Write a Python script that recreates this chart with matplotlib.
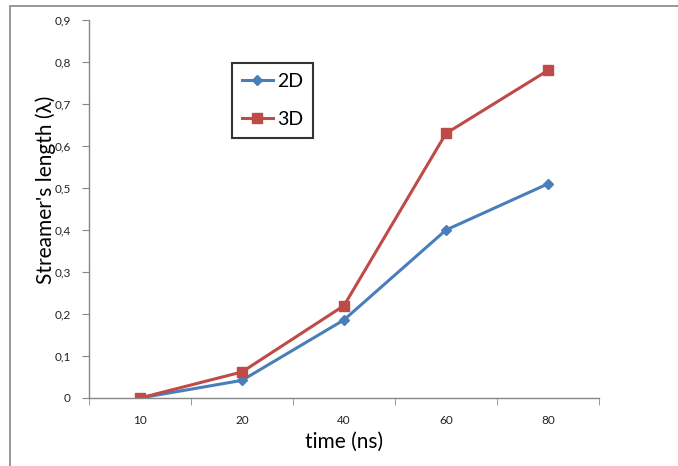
import matplotlib
matplotlib.use("Agg")
import matplotlib.pyplot as plt
from matplotlib.ticker import FuncFormatter, FixedLocator
from matplotlib.patches import Rectangle

times = ["10", "20", "40", "60", "80"]
len_2d = [0.0, 0.042, 0.186, 0.40, 0.51]
len_3d = [0.0, 0.062, 0.22, 0.63, 0.78]

plt.rcParams['font.family'] = ['Lato', 'DejaVu Sans']

W, H = 678, 466
fig = plt.figure(figsize=(W / 100, H / 100), dpi=100)
ax = fig.add_axes([89 / W, (H - 398) / H, (599 - 89) / W, (398 - 20) / H])

# outer chart frame (only top and left edges are visible in the crop)
fig.add_artist(Rectangle((10 / W, -0.01), 1.0, (H - 6) / H + 0.01, transform=fig.transFigure,
                         fill=False, edgecolor="#868686", lw=1.2))

x = list(range(len(times)))
ax.plot(x, len_2d, color="#4A7EBB", lw=2.2, marker="D", markersize=5, label="2D")
ax.plot(x, len_3d, color="#BE4B48", lw=2.2, marker="s", markersize=7, label="3D")

ax.set_xlim(-0.5, len(times) - 0.5)
ax.set_ylim(0, 0.9)
ax.set_xticks(x)
ax.set_xticklabels(times)
ax.xaxis.set_minor_locator(FixedLocator([i - 0.5 for i in range(len(times) + 1)]))
ax.tick_params(axis="x", which="major", length=0, pad=12, labelsize=8.5, labelcolor="#222222")
ax.tick_params(axis="x", which="minor", length=5, direction="out", color="#868686")
ax.set_yticks([i / 10 for i in range(10)])
ax.yaxis.set_major_formatter(FuncFormatter(lambda v, p: "0" if v == 0 else f"{v:.1f}".replace(".", ",")))
ax.tick_params(axis="y", length=5, direction="out", color="#868686", labelsize=8.5, labelcolor="#222222", pad=8)

for s in ["top", "right"]:
    ax.spines[s].set_visible(False)
for s in ["left", "bottom"]:
    ax.spines[s].set_color("#868686")
    ax.spines[s].set_linewidth(1.0)

ax.set_xlabel("time (ns)", fontsize=15)
ax.set_ylabel("Streamer's length (λ)", fontsize=15)
ax.xaxis.set_label_coords(0.5, -0.09)
ax.yaxis.set_label_coords(-0.065, 0.55)

leg = ax.legend(loc="upper left", bbox_to_anchor=((232 - 89) / 510, (398 - 63) / 378),
                fontsize=14, frameon=True, fancybox=False, handlelength=1.6,
                handletextpad=0.2, labelspacing=1.1, borderpad=0.5, borderaxespad=0)
leg.get_frame().set_edgecolor("black")
leg.get_frame().set_linewidth(1.5)

fig.savefig("out.png", dpi=100)
